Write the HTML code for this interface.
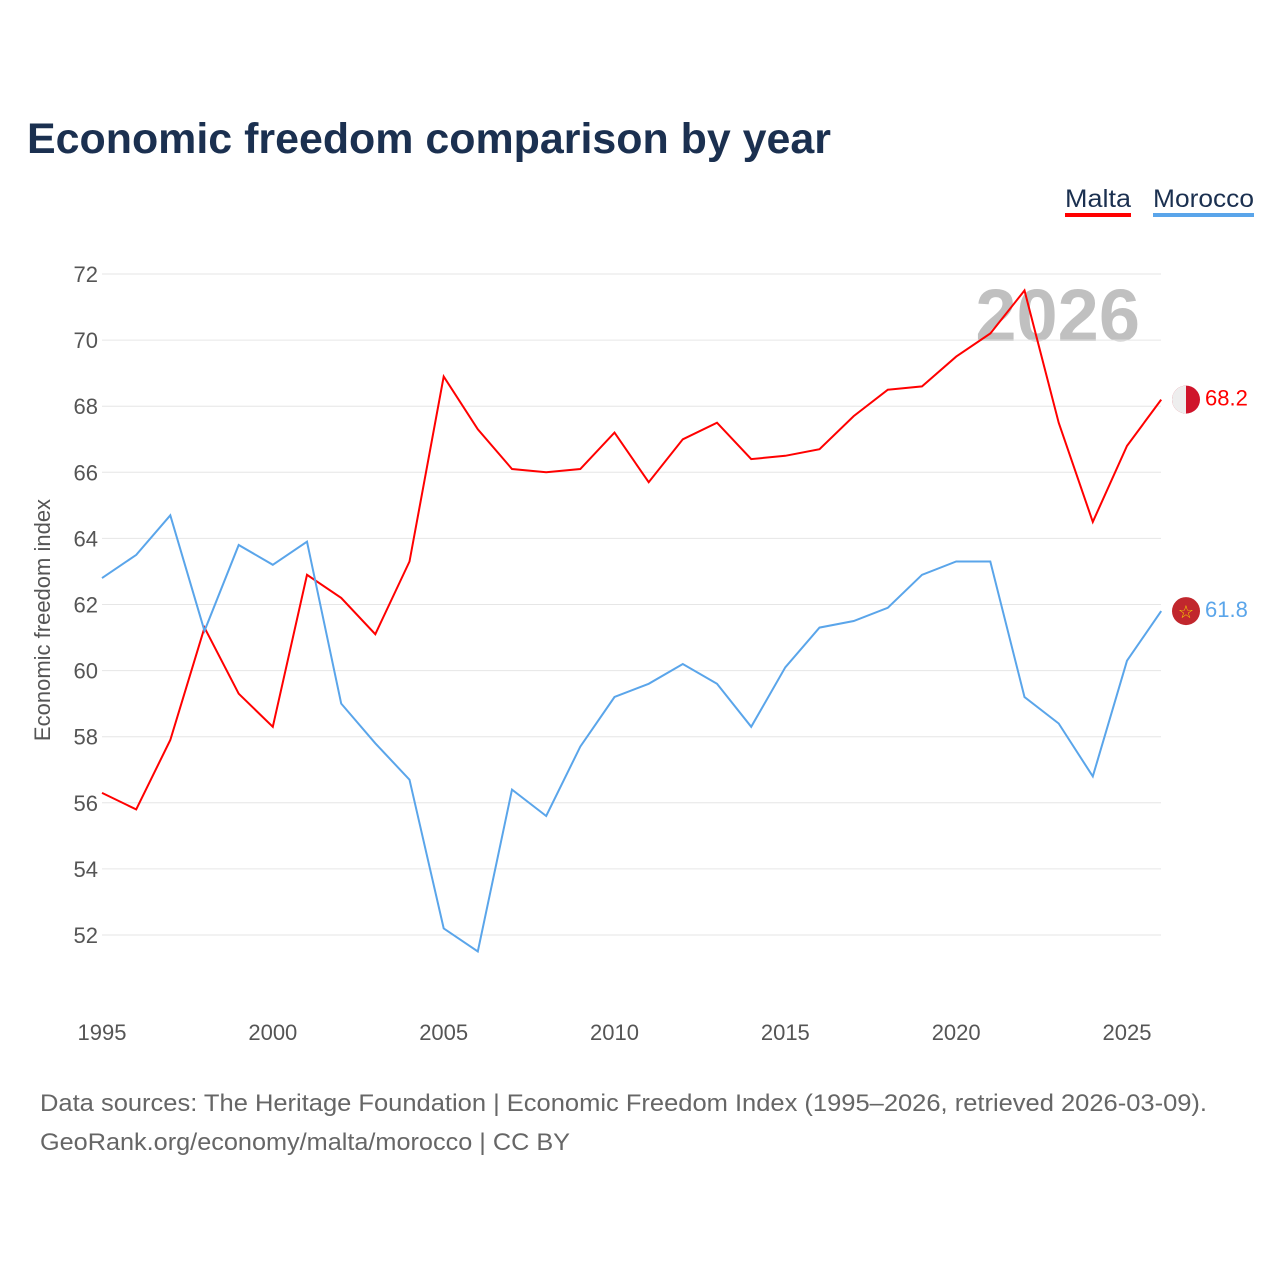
<!DOCTYPE html>
<html><head><meta charset="utf-8">
<style>
body{margin:0;background:#fff;font-family:"Liberation Sans",sans-serif;}
#wrap{position:relative;width:1280px;height:1280px;overflow:hidden;}
</style></head>
<body><div id="wrap">
<svg id="chart" width="1280" height="1280" xmlns="http://www.w3.org/2000/svg">
<text x="27" y="153" font-size="43" font-weight="bold" fill="#1b3050" textLength="804" lengthAdjust="spacingAndGlyphs">Economic freedom comparison by year</text>
<g><text x="1065" y="207" font-size="25" fill="#1b3050" textLength="66" lengthAdjust="spacingAndGlyphs">Malta</text><rect x="1065" y="213" width="66" height="4" fill="#ff0000"/></g>
<g><text x="1153" y="207" font-size="25" fill="#1b3050" textLength="101" lengthAdjust="spacingAndGlyphs">Morocco</text><rect x="1153" y="213" width="101" height="4" fill="#5aa5ea"/></g>
<text x="1140" y="341" font-size="74" font-weight="bold" fill="#c0c0c0" text-anchor="end">2026</text>
<g id="grid"></g>
<g id="yticks"></g>
<g id="xticks"></g>
<text transform="translate(50,620) rotate(-90)" font-size="22" fill="#555" text-anchor="middle">Economic freedom index</text>
<g id="series"></g>
<text x="40" y="1111" font-size="24" fill="#666" textLength="1167" lengthAdjust="spacingAndGlyphs">Data sources: The Heritage Foundation | Economic Freedom Index (1995–2026, retrieved 2026-03-09).</text>
<text x="40" y="1150" font-size="24" fill="#666" textLength="530" lengthAdjust="spacingAndGlyphs">GeoRank.org/economy/malta/morocco | CC BY</text>
</svg>
<script>
const years=[1995,1996,1997,1998,1999,2000,2001,2002,2003,2004,2005,2006,2007,2008,2009,2010,2011,2012,2013,2014,2015,2016,2017,2018,2019,2020,2021,2022,2023,2024,2025,2026];
const malta=[56.3,55.8,57.9,61.3,59.3,58.3,62.9,62.2,61.1,63.3,68.9,67.3,66.1,66.0,66.1,67.2,65.7,67.0,67.5,66.4,66.5,66.7,67.7,68.5,68.6,69.5,70.2,71.5,67.5,64.5,66.8,68.2];
const morocco=[62.8,63.5,64.7,61.2,63.8,63.2,63.9,59.0,57.8,56.7,52.2,51.5,56.4,55.6,57.7,59.2,59.6,60.2,59.6,58.3,60.1,61.3,61.5,61.9,62.9,63.3,63.3,59.2,58.4,56.8,60.3,61.8];
const yTicks=[52,54,56,58,60,62,64,66,68,70,72];
const xTicks=[1995,2000,2005,2010,2015,2020,2025];
const NS="http://www.w3.org/2000/svg";
function xs(y){return 102+(y-1995)*(1025/30);}
function ys(v){return 274+(72-v)*(661/20);}
function mk(t,a,p){const e=document.createElementNS(NS,t);for(const k in a)e.setAttribute(k,a[k]);p.appendChild(e);return e;}
const grid=document.getElementById('grid'),yt=document.getElementById('yticks'),xt=document.getElementById('xticks'),se=document.getElementById('series');
yTicks.forEach(v=>{
 const l=mk('line',{x1:102,x2:1161,y1:ys(v),y2:ys(v),stroke:'#e6e6e6','stroke-width':1},grid);
 
 
 const t=mk('text',{x:98,y:ys(v)+8,'font-size':22,fill:'#555','text-anchor':'end'},yt);t.textContent=v;
 
 
});
xTicks.forEach(v=>{
 const t=mk('text',{x:xs(v),y:1040,'font-size':22,fill:'#555','text-anchor':'middle'},xt);t.textContent=v;
 
 
});
function line(vals,color,name){
 const d=vals.map((v,i)=>(i?'L':'M')+xs(years[i]).toFixed(1)+','+ys(v).toFixed(1)).join('');
 const p=mk('path',{d:d,fill:'none',stroke:color,'stroke-width':2},se);
 
 
 const last=vals[vals.length-1],y=ys(last);
 const t=mk('text',{x:1205,y:y+6,'font-size':22,fill:color},se);t.textContent=last.toFixed(1);
 
 
 return y;
}
const ym=line(malta,'#ff0000','malta');
const yo=line(morocco,'#5aa5ea','morocco');
const f1=mk('g',{},se);


mk('circle',{cx:1186,cy:ym,r:14,fill:'#cf142b'},f1);
mk('path',{d:`M1186,${ym-14}A14,14 0 0 0 1186,${ym+14}Z`,fill:'#eee'},f1);
const f2=mk('g',{},se);


mk('circle',{cx:1186,cy:yo,r:14,fill:'#c1272d'},f2);
const st=mk('text',{x:1186,y:yo+7,'font-size':18,fill:'#f5d000','text-anchor':'middle'},f2);st.textContent='☆';
</script>
</div></body></html>
